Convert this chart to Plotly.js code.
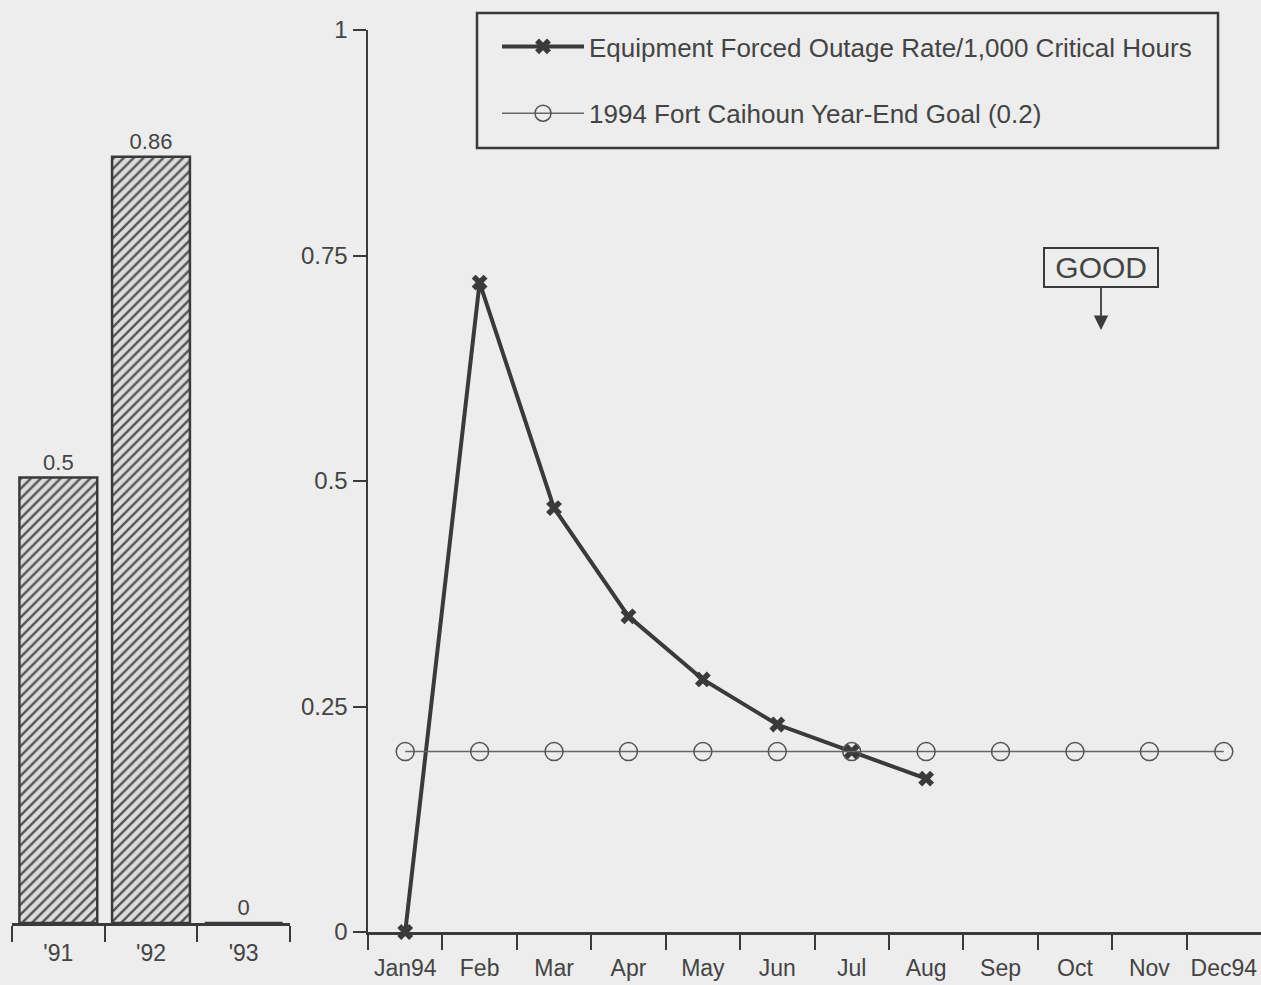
<!DOCTYPE html>
<html>
<head>
<meta charset="utf-8">
<script src="https://cdn.plot.ly/plotly-3.0.1.min.js"></script>
<style>html,body{margin:0;padding:0;background:#ededed;}#chart{width:1261px;height:985px;}</style>
</head>
<body>
<div id="chart"></div>
<script>
// Data
const yearCats = ["'91", "'92", "'93"];
const yearVals = [0.5, 0.86, 0];
const yearLabels = ["0.5", "0.86", "0"];

const months = ["Jan94", "Feb", "Mar", "Apr", "May", "Jun", "Jul", "Aug", "Sep", "Oct", "Nov", "Dec94"];
const rateMonths = ["Jan94", "Feb", "Mar", "Apr", "May", "Jun", "Jul", "Aug"];
const rateVals = [0, 0.72, 0.47, 0.35, 0.28, 0.23, 0.20, 0.17];
const goalVals = [0.2, 0.2, 0.2, 0.2, 0.2, 0.2, 0.2, 0.2, 0.2, 0.2, 0.2, 0.2];

const rateName = "Equipment Forced Outage Rate/1,000 Critical Hours";
const goalName = "1994 Fort Caihoun Year-End Goal (0.2)";

const W = 1261, H = 985;
const px = v => v / W;
const py = v => (H - v) / H;
const ink = '#3a3a3a';
const fam = 'Liberation Sans, Arial, sans-serif';
const font = {family: fam, size: 24, color: '#444'};

const traces = [
  {
    type: 'bar', x: yearCats, y: yearVals, xaxis: 'x', yaxis: 'y',
    text: yearLabels, textposition: 'outside', cliponaxis: false,
    textfont: {family: fam, size: 22, color: '#444'},
    width: 0.84,
    marker: {color: '#d8d8d8', line: {color: ink, width: 2.5},
             pattern: {shape: '/', fgcolor: '#555', bgcolor: '#dcdcdc', size: 7, solidity: 0.35}},
    showlegend: false, hoverinfo: 'skip'
  },
  {
    type: 'scatter', mode: 'lines+markers', x: rateMonths, y: rateVals, xaxis: 'x2', yaxis: 'y2',
    name: rateName, legendgroup: 'a', cliponaxis: false,
    line: {color: ink, width: 4},
    marker: {symbol: 'x', size: 14, color: ink}
  },
  {
    type: 'scatter', mode: 'lines+markers', x: months, y: goalVals, xaxis: 'x2', yaxis: 'y2',
    name: goalName, legendgroup: 'b', cliponaxis: false,
    line: {color: '#666', width: 1.5},
    marker: {symbol: 'circle-open', size: 18, color: '#555', line: {width: 1.5}}
  }
];

const layout = {
  width: W, height: H,
  margin: {l: 0, r: 0, t: 0, b: 0},
  paper_bgcolor: '#ededed', plot_bgcolor: 'rgba(0,0,0,0)',
  font: font,
  showlegend: true,
  legend: {
    x: px(497), y: py(23), xanchor: 'left', yanchor: 'top',
    bgcolor: 'rgba(0,0,0,0)', borderwidth: 0,
    font: {family: fam, size: 26, color: '#444'},
    tracegroupgap: 30, itemwidth: 82
  },
  xaxis: {
    domain: [px(12), px(290)], type: 'category', range: [-0.5, 2.5],
    showline: true, linecolor: ink, linewidth: 2.5,
    ticks: 'outside', tickson: 'boundaries', ticklen: 16, tickwidth: 2, tickcolor: ink,
    showgrid: false, zeroline: false, fixedrange: true, tickangle: 0,
    ticklabelstandoff: 8,
    tickfont: {family: fam, size: 23, color: '#444'}
  },
  yaxis: {
    domain: [py(923), py(32)], range: [0, 1],
    visible: false, showgrid: false, zeroline: false, fixedrange: true
  },
  xaxis2: {
    domain: [px(368), 1], type: 'category', range: [-0.5, 11.5], anchor: 'y2',
    categoryorder: 'array', categoryarray: months,
    showline: true, linecolor: ink, linewidth: 2.5,
    ticks: 'outside', tickson: 'boundaries', ticklen: 15, tickwidth: 2, tickcolor: ink,
    showgrid: false, zeroline: false, fixedrange: true, tickangle: 0,
    ticklabelstandoff: 14,
    tickfont: {family: fam, size: 23, color: '#444'}
  },
  yaxis2: {
    domain: [py(932), py(30)], range: [0, 1], anchor: 'x2',
    tickvals: [0, 0.25, 0.5, 0.75, 1], ticktext: ['0', '0.25', '0.5', '0.75', '1'],
    showline: true, linecolor: ink, linewidth: 2.5,
    ticks: 'outside', ticklen: 13, tickwidth: 2, tickcolor: ink,
    showgrid: false, zeroline: false, fixedrange: true,
    tickfont: {family: fam, size: 24, color: '#444'}
  },
  shapes: [
    {type: 'rect', xref: 'paper', yref: 'paper', x0: px(477), x1: px(1218), y0: py(148), y1: py(13),
     line: {color: ink, width: 2.5}, fillcolor: 'rgba(0,0,0,0)'}
  ],
  annotations: [
    {xref: 'paper', yref: 'paper', x: px(1101), y: py(330), ax: 0, ay: -63,
     text: '\u00a0GOOD\u00a0', showarrow: true, arrowhead: 2, arrowsize: 1.6, arrowwidth: 1.8, arrowcolor: ink,
     bordercolor: ink, borderwidth: 2, borderpad: 2, bgcolor: '#ededed',
     font: {family: fam, size: 30, color: '#444'}}
  ]
};

Plotly.newPlot('chart', traces, layout, {displayModeBar: false, staticPlot: true});
</script>
</body>
</html>
